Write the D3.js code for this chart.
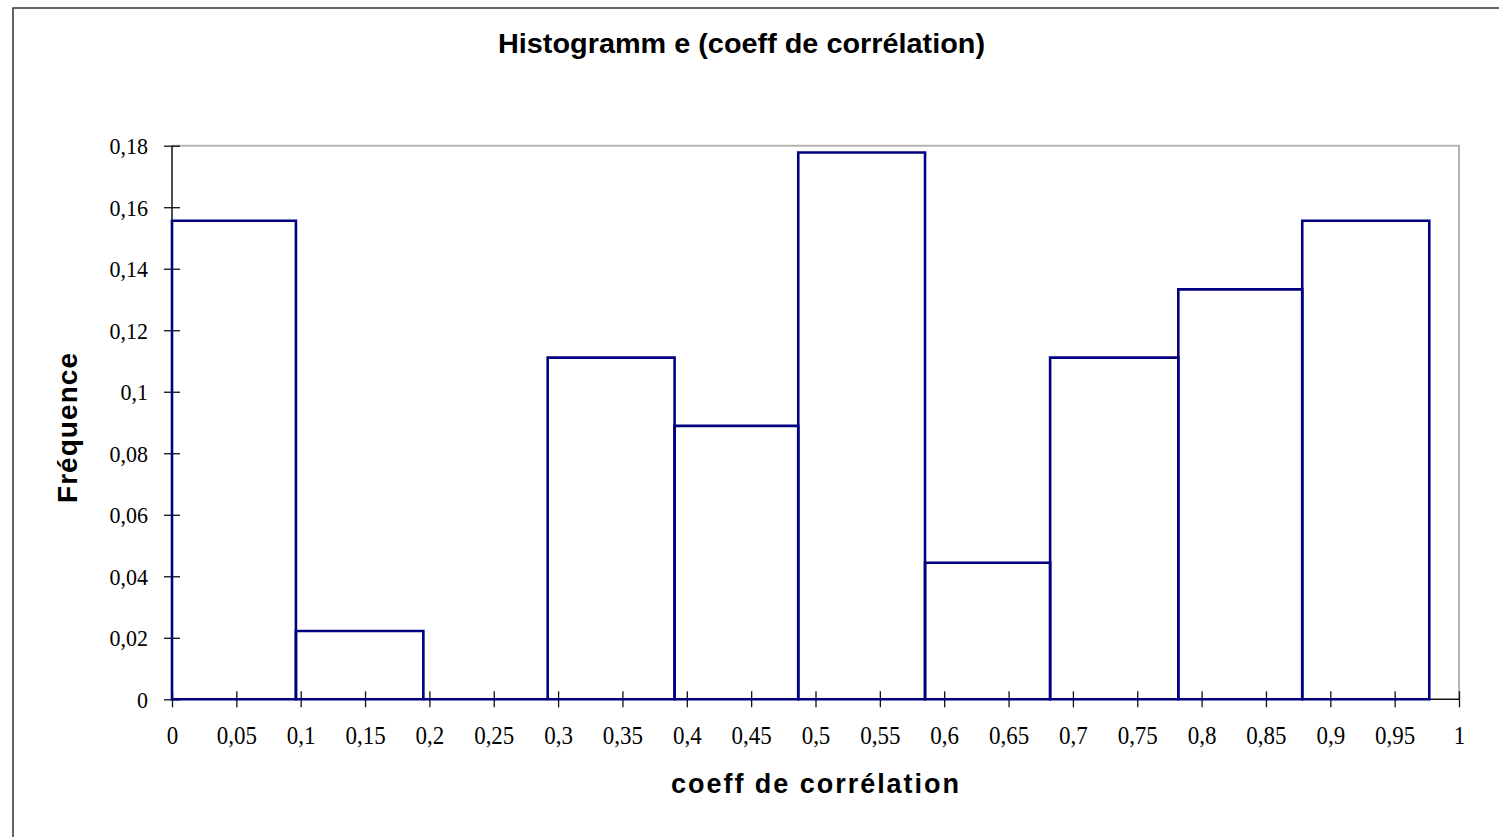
<!DOCTYPE html>
<html>
<head>
<meta charset="utf-8">
<script src="https://cdn.jsdelivr.net/npm/d3@7"></script>
<style>
  html, body { margin: 0; padding: 0; background: #fff; }
  svg { display: block; }
</style>
</head>
<body>
<svg id="chart" width="1499" height="837"></svg>
<script>
// ---- Data ----
const binEdges = [0, 0.0963, 0.1953, 0.2919, 0.3905, 0.4866, 0.5851, 0.6823, 0.7819, 0.8782, 0.9769];
const frequencies = [0.1556, 0.0222, 0, 0.1111, 0.0889, 0.1778, 0.0444, 0.1111, 0.1333, 0.1556];
const xTicks = [0, 0.05, 0.1, 0.15, 0.2, 0.25, 0.3, 0.35, 0.4, 0.45, 0.5, 0.55, 0.6, 0.65, 0.7, 0.75, 0.8, 0.85, 0.9, 0.95, 1];
const yTicks = [0, 0.02, 0.04, 0.06, 0.08, 0.1, 0.12, 0.14, 0.16, 0.18];
const chartTitle = "Histogramm e (coeff de corrélation)";
const xTitle = "coeff de corrélation";
const yTitle = "Fréquence";

// ---- Layout ----
const svg = d3.select("#chart");
const plot = { left: 172, right: 1459, top: 145.7, bottom: 699.3 };

const x = d3.scaleLinear().domain([0, 1]).range([plot.left, plot.right]);
const y = d3.scaleLinear().domain([0, 0.18]).range([plot.bottom, plot.top]);

const fmt = v => String(+v.toFixed(2)).replace(".", ",");
const serif = "'Liberation Serif', 'Times New Roman', serif";
const sans = "'Liberation Sans', Arial, sans-serif";

// outer chart border (clipped at right/bottom)
svg.append("rect")
  .attr("x", 13).attr("y", 8)
  .attr("width", 1499).attr("height", 837)
  .attr("fill", "none").attr("stroke", "#333").attr("stroke-width", 1.5);

// plot area border top/right (gray)
svg.append("path")
  .attr("d", `M${plot.left},${plot.top}H${plot.right}V${plot.bottom}`)
  .attr("fill", "none").attr("stroke", "#b4b4b4").attr("stroke-width", 2);

// axes
const xAxis = d3.axisBottom(x).tickValues(xTicks).tickFormat(fmt).tickSize(8).tickPadding(0);
const gx = svg.append("g").attr("transform", `translate(0,${plot.bottom})`).call(xAxis);
gx.select(".domain").remove();
gx.selectAll(".tick line").attr("y1", -8).attr("y2", 8).attr("stroke", "#111").attr("stroke-width", 1.3);
gx.selectAll(".tick text")
  .attr("y", 0).attr("dy", 0)
  .attr("transform", "translate(0,44.7) scale(1,1.08)")
  .attr("font-family", serif)
  .attr("font-size", 23).attr("fill", "#000");

const yAxis = d3.axisLeft(y).tickValues(yTicks).tickFormat(fmt).tickSize(8).tickPadding(0);
const gy = svg.append("g").attr("transform", `translate(${plot.left},0)`).call(yAxis);
gy.select(".domain").remove();
gy.selectAll(".tick line").attr("x1", 8).attr("x2", -8).attr("stroke", "#111").attr("stroke-width", 1.3);
gy.selectAll(".tick text")
  .attr("x", 0).attr("dy", "0.34em")
  .attr("transform", "translate(-24,0) scale(1,1.08)")
  .attr("font-family", serif)
  .attr("font-size", 22).attr("fill", "#000");

svg.append("line").attr("x1", plot.left).attr("x2", plot.right + 1)
  .attr("y1", plot.bottom).attr("y2", plot.bottom)
  .attr("stroke", "#111").attr("stroke-width", 1.5);
svg.append("line").attr("x1", plot.left).attr("x2", plot.left)
  .attr("y1", plot.top).attr("y2", plot.bottom)
  .attr("stroke", "#111").attr("stroke-width", 1.5);

// bars (paths so that a zero-height bin still shows its outline)
const bars = frequencies.map((f, i) => ({ x0: binEdges[i], x1: binEdges[i + 1], f }));
svg.append("g").selectAll("path").data(bars).join("path")
  .attr("d", d => `M${x(d.x0)},${y(0)}V${y(d.f)}H${x(d.x1)}V${y(0)}Z`)
  .attr("fill", "none")
  .attr("stroke", "#000080")
  .attr("stroke-width", 2.6)
  .attr("stroke-linejoin", "miter");

// titles
svg.append("text")
  .attr("x", 741.5).attr("y", 53)
  .attr("text-anchor", "middle")
  .attr("font-family", sans)
  .attr("font-weight", "bold").attr("font-size", 28)
  .attr("textLength", 487).attr("lengthAdjust", "spacingAndGlyphs")
  .text(chartTitle);

svg.append("text")
  .attr("x", 815).attr("y", 793)
  .attr("text-anchor", "middle")
  .attr("font-family", sans)
  .attr("font-weight", "bold").attr("font-size", 27)
  .attr("textLength", 288).attr("lengthAdjust", "spacing")
  .text(xTitle);

svg.append("text")
  .attr("transform", "translate(77,428) rotate(-90)")
  .attr("text-anchor", "middle")
  .attr("font-family", sans)
  .attr("font-weight", "bold").attr("font-size", 28)
  .attr("textLength", 150).attr("lengthAdjust", "spacing")
  .text(yTitle);
</script>
</body>
</html>
